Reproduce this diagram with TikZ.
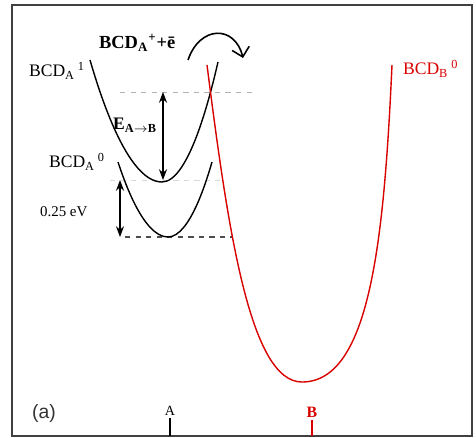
\documentclass[tikz,border=0pt]{standalone}
\usepackage{amsmath,amssymb}
\usepackage{fontspec}
\setmainfont{Liberation Serif}
\newfontfamily\panelfont{Liberation Sans}
\usepackage{xcolor}
\usepackage{tikz}
\usetikzlibrary{arrows.meta,positioning}

\begin{document}
\begin{tikzpicture}[x=0.02cm,y=-0.02cm,>=Stealth,
  lbl/.style={font=\fontsize{10}{11}\selectfont,inner sep=1pt},
  wellA/.style={line width=0.8pt},
  wellB/.style={red!85!black,line width=0.8pt}]
\useasboundingbox(0,0)rectangle(476,437);
\draw[black!75,line width=1.2pt](12,5)rectangle(472,436);
% energy levels
\draw[dashed,black!30](120,92)--(256,92);
\draw[dashed,black!15](110,180)--(220,180);
\draw[dashed,black!70,line width=0.8pt](125,237)--(232,237);
% wells on A
\draw[wellA](90,60)parabola bend(162,182)(218,62);
\draw[wellA](118,162)parabola bend(168,237)(212,162);
% well on B
\draw[wellB](207,65)..controls(228,230)and(250,382)..(302,382)
  ..controls(370,382)and(384,240)..(392,65);
% gaps
\coordinate(eTop)at(163,92);
\coordinate(eBot)at(163,180);
\draw[<->,line width=0.7pt](eTop)--(eBot);
\coordinate(zTop)at(120,180);
\coordinate(zBot)at(120,237);
\draw[<->,line width=0.7pt](zTop)--(zBot);
% transfer
\coordinate(jFrom)at(188,60);
\coordinate(jTo)at(243,58);
\draw[-{Straight Barb[length=5pt]},line width=0.9pt](jFrom)..controls(200,25)and(235,25)..(jTo);
\node[lbl,anchor=west](lA1)at(27,71){BCD\textsubscript{A}\,\textsuperscript{1}};
\node[lbl,anchor=west](lA0)at(47,162){BCD\textsubscript{A}\,\textsuperscript{0}};
\node[lbl,font=\fontsize{8.5}{10}\selectfont,anchor=west](lgap)at(38,212){0.25 eV};
\node[font=\fontsize{10}{12}\selectfont\bfseries](lE)at(135,125){E\textsubscript{A$\rightarrow$B}};
\node[font=\fontsize{10.5}{12}\selectfont\bfseries,anchor=west,inner sep=1pt](lion)at(97,43){BCD\textsubscript{A}\textsuperscript{+}+\=e};
\node[lbl,red!85!black,anchor=west](lB0)at(401,69){BCD\textsubscript{B}\,\textsuperscript{0}};
% axis marks
\draw[line width=0.7pt](170,436)--(170,418)node[above,font=\fontsize{8}{9}\selectfont,inner sep=1pt](tA){A};
\draw[red!85!black,line width=1.2pt](312,436)--(312,420)node[above,font=\fontsize{9}{10}\selectfont\bfseries,inner sep=1pt](tB){B};
\node[font=\panelfont\fontsize{11}{12}\selectfont,text=black!80](panel)at(44,413){(a)};
\end{tikzpicture}
\end{document}
